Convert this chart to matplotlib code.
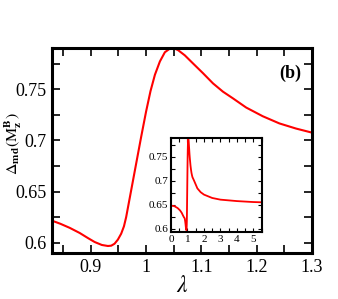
import numpy as np
import matplotlib
matplotlib.use('Agg')
import matplotlib.pyplot as plt
from matplotlib.ticker import MultipleLocator

plt.rcParams['font.family'] = ['Liberation Serif', 'DejaVu Serif']
plt.rcParams['mathtext.fontset'] = 'stix'

# main panel
lam = [0.830, 0.845, 0.862, 0.880, 0.895, 0.907, 0.920, 0.931, 0.937, 0.943,
       0.949, 0.955, 0.960, 0.964, 0.973, 0.982, 0.991, 1.000, 1.008, 1.016,
       1.025, 1.034, 1.043, 1.050, 1.058, 1.070, 1.085, 1.103, 1.121, 1.139,
       1.157, 1.181, 1.211, 1.241, 1.271, 1.300]
delta = [0.6215, 0.6185, 0.6145, 0.6095, 0.6045, 0.6007, 0.5978, 0.5968, 0.5971, 0.5990,
         0.6030, 0.6088, 0.6160, 0.6250, 0.6510, 0.6770, 0.7030, 0.7280, 0.7480, 0.7640,
         0.7770, 0.7860, 0.7895, 0.7900, 0.7880, 0.7830, 0.7750, 0.7655, 0.7556, 0.7475,
         0.7410, 0.7320, 0.7235, 0.7165, 0.7115, 0.7075]

# inset: extra points outside the main window
lam_lo = [0.0, 0.2, 0.4, 0.55, 0.65, 0.72, 0.78]
delta_lo = [0.648, 0.647, 0.643, 0.638, 0.633, 0.628, 0.624]
lam_hi = [1.4, 1.6, 1.8, 2.0, 2.5, 3.0, 3.5, 4.0, 4.5, 5.0, 5.5]
delta_hi = [0.700, 0.684, 0.676, 0.671, 0.664, 0.6605, 0.659, 0.6575, 0.6565, 0.6555, 0.655]


def style_axes(ax, lw, major, minor):
    for s in ax.spines.values():
        s.set_linewidth(lw)
    ax.tick_params(which='both', direction='in', top=True, right=True, width=1.2)
    ax.tick_params(which='major', length=major)
    ax.tick_params(which='minor', length=minor)


fig = plt.figure(figsize=(3.38, 2.99), dpi=100)
ax = fig.add_axes([0.154, 0.154, 0.769, 0.685])
ax.plot(lam, delta, color='red', lw=1.5)
ax.set_xlim(0.83, 1.3)
ax.set_ylim(0.59, 0.79)
ax.xaxis.set_minor_locator(MultipleLocator(0.05))
ax.yaxis.set_minor_locator(MultipleLocator(0.025))
ax.set_xticks([0.9, 1.0, 1.1, 1.2, 1.3])
ax.set_xticklabels(['0.9', '1', '1.1', '1.2', '1.3'])
ax.set_yticks([0.6, 0.65, 0.7, 0.75])
ax.set_yticklabels(['0.6', '0.65', '0.7', '0.75'])
style_axes(ax, 2.2, 6, 6)
ax.tick_params(labelsize=13, pad=4)
ax.set_xlabel(r'$\lambda$', fontsize=17, labelpad=0)
fig.text(13 / 338, 1 - 144 / 299,
         r'$\Delta_{\mathbf{md}}(\mathrm{M}_{\mathbf{z}}^{\mathbf{B}})$',
         fontsize=11.5, rotation=90, ha='center', va='center')
ax.text(0.915, 0.878, '(b)', transform=ax.transAxes, fontsize=13,
        fontweight='bold', ha='center', va='center')

# inset
axi = fig.add_axes([0.506, 0.224, 0.268, 0.316])
axi.plot(lam_lo + lam + lam_hi, delta_lo + delta + delta_hi, color='red', lw=1.3)
axi.set_xlim(0, 5.5)
axi.set_ylim(0.593, 0.79)
axi.xaxis.set_major_locator(MultipleLocator(1))
axi.xaxis.set_minor_locator(MultipleLocator(0.5))
axi.set_yticks([0.6, 0.65, 0.7, 0.75])
axi.set_yticklabels(['0.6', '0.65', '0.7', '0.75'])
axi.yaxis.set_minor_locator(MultipleLocator(0.025))
style_axes(axi, 1.5, 3, 3)
axi.tick_params(which='both', width=0.8)
axi.tick_params(labelsize=8, pad=2)

fig.savefig('out.png', dpi=100)
